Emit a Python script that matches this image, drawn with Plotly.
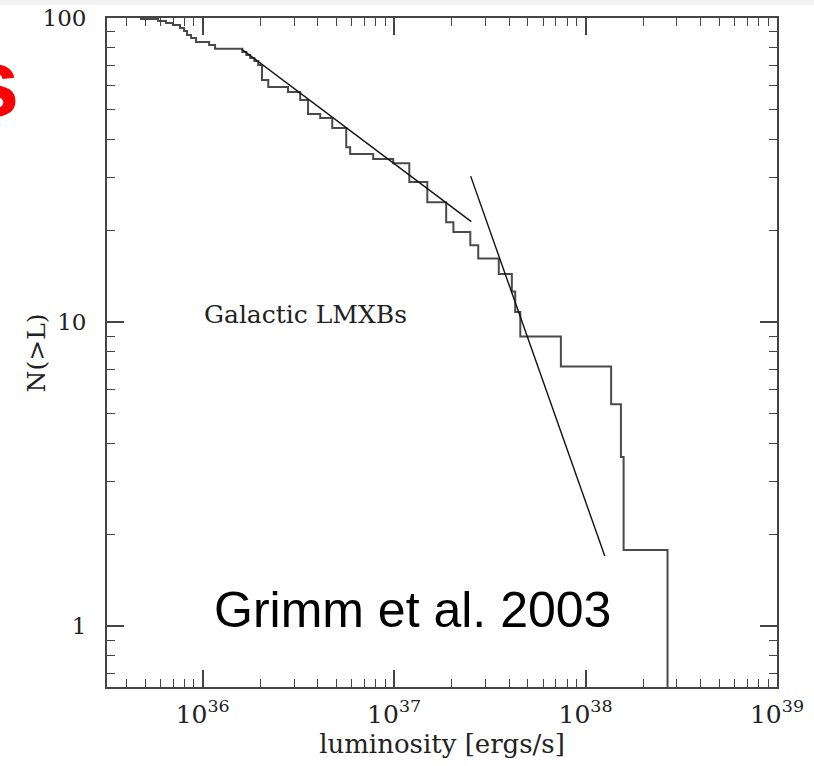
import plotly.graph_objects as go

# Cumulative luminosity function of Galactic LMXBs, N(>L)
lum_steps = [4.70e35, 5.85e35, 6.43e35, 7.00e35, 7.61e35, 7.99e35, 8.28e35, 8.69e35,
             9.23e35, 1.08e36, 1.16e36, 1.61e36, 1.69e36, 1.77e36, 1.86e36, 1.95e36,
             2.04e36, 2.20e36, 2.79e36, 3.23e36, 3.55e36, 4.11e36, 4.75e36, 5.62e36,
             5.89e36, 7.77e36, 9.89e36, 1.20e37, 1.49e37, 1.87e37, 2.04e37, 2.50e37,
             2.75e37, 3.52e37, 4.12e37, 4.29e37, 4.56e37, 7.43e37, 1.36e38, 1.53e38,
             1.58e38, 2.68e38]
n_above = [99.2, 97.8, 96.3, 94.8, 92.7, 90.6, 87.9, 85.9,
           83.4, 81.5, 79.3, 77.3, 75.6, 73.9, 72.2, 70.0,
           62.5, 59.3, 57.1, 53.7, 48.3, 46.9, 43.5, 37.6,
           35.7, 34.4, 33.3, 28.9, 24.8, 21.3, 19.8, 17.9,
           16.2, 14.4, 12.6, 10.8, 8.96, 7.14, 5.37, 3.60,
           1.78, 0.3]  # last value: N falls to zero past the brightest source

# Power-law fits below and above the break
fit_low_lum = [1.60e36, 2.53e37]
fit_low_n = [78.9, 21.4]
fit_high_lum = [2.51e37, 1.26e38]
fit_high_n = [30.2, 1.70]

x_tickvals = [1e36, 1e37, 1e38, 1e39]
x_ticktext = ["10<sup>36</sup>", "10<sup>37</sup>", "10<sup>38</sup>", "10<sup>39</sup>"]
y_tickvals = [1, 10, 100]
y_ticktext = ["1", "10", "100"]

serif = "DejaVu Serif"
axis_col = "#444444"
text_col = "#222222"

fig = go.Figure()
fig.add_trace(go.Scatter(x=lum_steps, y=n_above, mode="lines",
                         line=dict(color="#4a4a4a", width=2.0, shape="hv"),
                         showlegend=False, hoverinfo="skip"))
fig.add_trace(go.Scatter(x=fit_low_lum, y=fit_low_n, mode="lines",
                         line=dict(color="#111111", width=1.4),
                         showlegend=False, hoverinfo="skip"))
fig.add_trace(go.Scatter(x=fit_high_lum, y=fit_high_n, mode="lines",
                         line=dict(color="#111111", width=1.4),
                         showlegend=False, hoverinfo="skip"))

axis_common = dict(
    type="log", showgrid=False, zeroline=False, automargin=False,
    showline=True, linecolor=axis_col, linewidth=1.8, mirror="allticks",
    ticks="inside", ticklen=17, tickwidth=1.5, tickcolor=axis_col,
    minor=dict(ticks="inside", ticklen=8, tickwidth=1.3, tickcolor=axis_col,
               dtick="D1", showgrid=False),
)

fig.update_xaxes(**axis_common, range=[35.5, 39.0], tickvals=x_tickvals, ticktext=x_ticktext,
                 tickfont=dict(family=serif, size=25, color=text_col),
                 ticklabelstandoff=4,
                 title=dict(text="luminosity [ergs/s]", standoff=6,
                            font=dict(family=serif, size=26, color=text_col)))
fig.update_yaxes(**axis_common, range=[-0.2, 2.0], tickvals=y_tickvals, ticktext=y_ticktext,
                 tickfont=dict(family=serif, size=23, color=text_col),
                 ticklabelstandoff=14)

# y-axis title, set close to the tick labels
fig.add_annotation(text="N(>L)", xref="paper", yref="paper",
                   x=-0.1046, y=0.5, xanchor="center", yanchor="middle",
                   textangle=-90, showarrow=False,
                   font=dict(family=serif, size=25, color=text_col))
fig.add_annotation(text="Galactic LMXBs", xref="paper", yref="paper",
                   x=0.2957, y=0.5575, xanchor="center", yanchor="middle", showarrow=False,
                   font=dict(family=serif, size=25, color=text_col))
fig.add_annotation(text="Grimm et al. 2003", xref="paper", yref="paper",
                   x=0.4556, y=0.115, xanchor="center", yanchor="middle", showarrow=False,
                   font=dict(family="Liberation Sans, Arial", size=50, color="#000000"))
# slide title fragment at the left edge
fig.add_annotation(text="<b>LMXBs</b>", xref="paper", yref="paper",
                   x=-0.1285, y=0.903, xanchor="right", yanchor="middle", showarrow=False,
                   font=dict(family="Liberation Sans, Arial", size=96, color="#ff0000"))
# light band along the top of the slide
fig.add_shape(type="rect", xref="paper", yref="paper",
              x0=-0.2, x1=1.1, y0=1.0194, y1=1.05,
              fillcolor="#f2f2f2", line=dict(width=0), layer="below")

fig.update_layout(width=814, height=766,
                  margin=dict(l=107, r=37, t=18, b=79),
                  paper_bgcolor="white", plot_bgcolor="white")

fig.write_html("out.html")
